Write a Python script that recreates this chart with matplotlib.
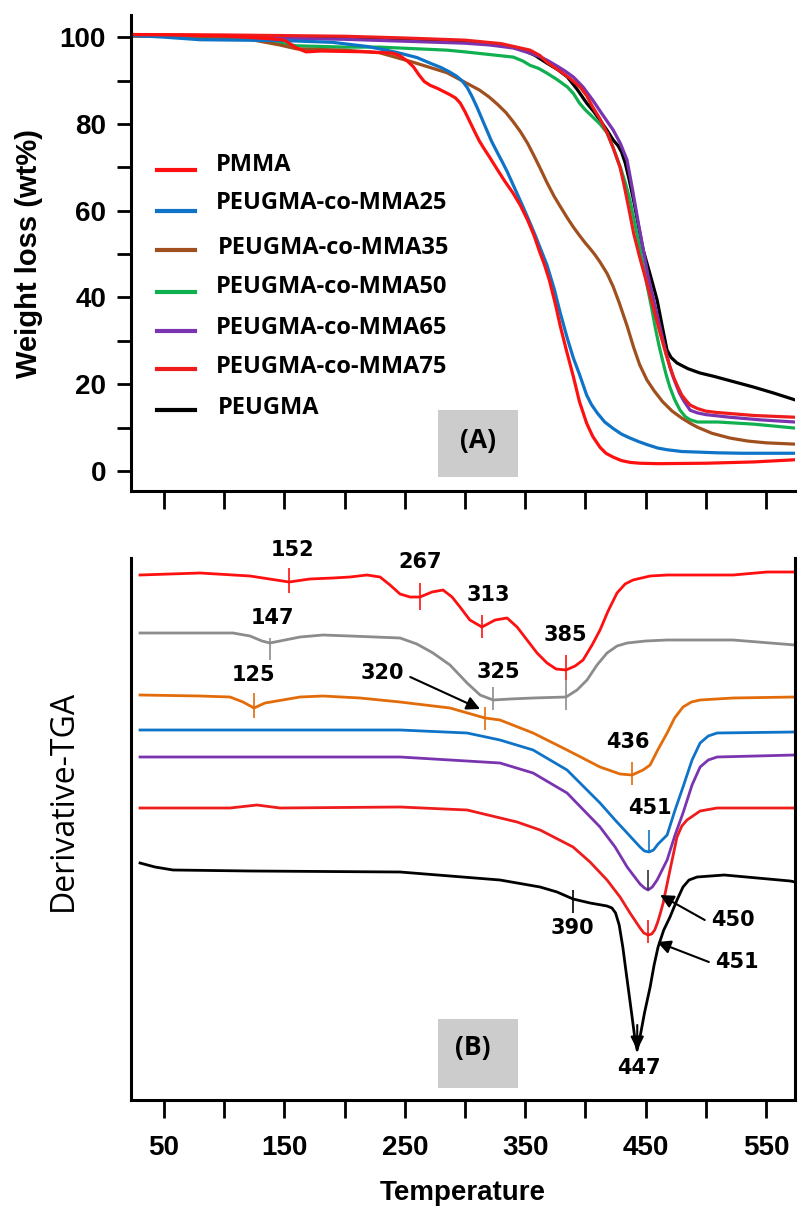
import numpy as np
import matplotlib.pyplot as plt
from matplotlib.patches import Rectangle

# ---------------- (A) TGA curves: temperature (C) / weight (%) ----------------
t_pmma = [22.6, 60, 100, 140, 150, 160, 168, 180, 220, 240, 246, 252, 257, 262, 266, 271, 277, 282, 287,
          292, 296, 300, 304, 308, 312, 316, 320, 327, 333, 340, 346, 352, 357, 362, 366, 370, 375, 379,
          384, 390, 395, 401, 406, 412, 417, 423, 430, 437, 445, 460, 500, 540, 574]
w_pmma = [100.6, 100.5, 100.3, 99.6, 99.3, 97.5, 96.6, 96.8, 96.6, 96.3, 95.7, 94.5, 93.2, 91.2, 89.8,
          88.9, 88.2, 87.5, 86.8, 86.0, 84.8, 82.8, 80.5, 78.2, 76.0, 74.2, 72.5, 69.4, 66.8, 64.0, 61.2,
          57.8, 54.5, 50.5, 47.5, 44.0, 38.5, 33.5, 28.0, 21.7, 16.0, 11.0, 8.0, 5.5, 4.1, 3.2, 2.4, 2.0,
          1.8, 1.7, 1.8, 2.1, 2.6]

t_m25 = [22.6, 50, 80, 150, 190, 220, 243, 260, 271, 280, 287, 293, 298, 302, 306, 310, 314, 318, 322, 327,
         331, 335, 341, 348, 353, 358, 363, 368, 374, 379, 385, 390, 395, 401, 405, 410, 416, 423, 430,
         437, 444, 451, 460, 468, 480, 490, 510, 530, 574]
w_m25 = [100.4, 100.0, 99.4, 99.2, 98.8, 97.8, 96.5, 95.3, 94.0, 93.0, 92.0, 91.0, 89.8, 88.3, 86.2, 83.8,
         81.2, 78.6, 76.0, 73.3, 71.2, 69.0, 65.3, 61.0, 57.8, 54.5, 51.0, 47.5, 42.0, 36.5, 30.5, 26.0,
         22.3, 17.5, 15.3, 13.3, 11.3, 9.8, 8.5, 7.6, 6.8, 6.1, 5.3, 4.9, 4.5, 4.4, 4.2, 4.1, 4.1]

t_m35 = [22.6, 60, 100, 119, 146, 160, 200, 229, 257, 285, 312, 320, 327, 334, 340, 346, 352, 357, 362, 368,
         374, 379, 385, 390, 395, 400, 404, 408, 412, 418, 423, 428, 434.5, 440, 445, 451, 457, 464, 472,
         480, 487, 493, 505, 520, 535, 550, 574]
w_m35 = [100.3, 100.2, 100.0, 99.6, 98.2, 97.3, 97.0, 96.4, 94.2, 91.8, 87.8, 86.2, 84.5, 82.6, 80.5, 78.2,
         75.5, 72.8, 70.0, 66.5, 63.3, 61.0, 58.3, 56.2, 54.3, 52.5, 51.2, 49.8, 48.2, 45.5, 42.5, 38.8,
         33.5, 28.5, 24.5, 21.0, 18.5, 16.0, 13.8, 12.2, 11.0, 10.1, 8.7, 7.6, 6.9, 6.5, 6.2]

t_m50 = [22.6, 80, 120, 132, 160, 200, 229, 285, 300, 340, 348, 354, 361, 368, 376, 385, 390, 395, 400, 406,
         412, 418, 423, 429, 433, 437, 441, 444, 448, 451, 455, 458, 461, 464, 467, 470, 474, 478.6, 483,
         487, 493, 510, 540, 574]
w_m50 = [100.3, 100.0, 99.6, 99.3, 98.0, 97.7, 97.7, 97.0, 96.6, 95.4, 94.5, 93.5, 92.8, 91.7, 90.3, 88.5,
         87.0, 84.8, 83.2, 81.6, 80.0, 77.9, 74.5, 70.0, 66.5, 62.4, 57.0, 53.0, 47.3, 43.0, 37.5, 33.0,
         29.0, 25.5, 22.2, 19.4, 16.5, 14.0, 12.5, 11.8, 11.3, 11.3, 10.8, 9.9]

t_m65 = [22.6, 100, 200, 300, 320, 340, 354, 362, 368, 376, 383, 390, 398, 406, 414, 423, 429, 434.5, 439,
         444, 448, 452, 457, 462, 466, 470, 474, 478, 482, 487, 493, 500, 520, 545, 574]
w_m65 = [100.3, 100.0, 99.5, 98.6, 98.2, 97.5, 96.3, 95.5, 94.7, 93.4, 92.2, 90.8, 88.5, 85.5, 82.2, 78.6,
         75.5, 71.7, 65.0, 57.0, 51.0, 45.0, 39.0, 33.0, 28.3, 24.0, 20.8, 18.0, 16.0, 14.0, 13.4, 13.0,
         12.4, 11.8, 11.3]

t_m75 = [22.6, 100, 200, 250, 300, 330, 354, 362, 368, 378, 387, 395.5, 401, 406, 412, 418, 423, 428.7, 432,
         436, 440, 445, 451, 456, 462, 467, 473, 477, 480, 484, 487, 493, 500, 509, 540, 574]
w_m75 = [100.6, 100.5, 100.2, 99.8, 99.3, 98.5, 97.0, 95.8, 94.2, 92.3, 90.5, 88.5, 86.5, 83.9, 81.2, 77.9,
         74.5, 70.0, 66.0, 60.5, 54.8, 49.3, 43.3, 38.0, 31.8, 26.8, 21.7, 19.2, 17.5, 16.1, 15.2, 14.4,
         13.8, 13.5, 12.8, 12.4]

t_peugma = [22.6, 100, 200, 300, 330, 347, 358, 368, 377, 385, 393, 401, 407, 412, 418, 423, 427, 430, 433,
            436, 440, 444, 448, 454, 459.5, 464, 467.7, 471, 476, 485, 495, 507, 517.6, 539, 556, 574]
w_peugma = [100.4, 100.3, 99.8, 98.8, 98.2, 97.2, 95.8, 94.0, 92.5, 90.8, 88.0, 84.8, 82.8, 80.9, 78.5,
            76.3, 75.0, 73.5, 71.0, 67.5, 62.4, 56.5, 50.9, 45.0, 39.4, 33.0, 27.9, 26.2, 24.9, 23.6, 22.6,
            21.8, 21.0, 19.4, 18.0, 16.4]

tga_labels = ["PMMA", "PEUGMA-co-MMA25", "PEUGMA-co-MMA35", "PEUGMA-co-MMA50",
              "PEUGMA-co-MMA65", "PEUGMA-co-MMA75", "PEUGMA"]
tga_colors = ["#ff1010", "#0f74c8", "#a0501e", "#10b050", "#7a34b0", "#ee1c1c", "#000000"]

# ---------------- (B) derivative TGA curves (stacked, arbitrary units) ----------------
d_t1 = [30.1, 79.9, 121.4, 153.8, 171, 190.4, 204.5, 218.6, 229.4, 237.7, 246, 254.3, 262.6, 272.6, 281.7,
        289.2, 295.8, 304, 314, 325, 334.9, 343.2, 351.5, 359.8, 368.1, 375.6, 383.9, 391.4, 398, 405.5,
        412.1, 418.8, 426.2, 432.9, 439.5, 453.7, 467.8, 522.6, 550.8, 574]
d_v1 = [5.25, 5.27, 5.24, 5.18, 5.21, 5.22, 5.23, 5.25, 5.23, 5.15, 5.06, 5.03, 5.03, 5.08, 5.10, 5.03,
        4.93, 4.80, 4.73, 4.80, 4.82, 4.73, 4.60, 4.47, 4.37, 4.31, 4.30, 4.34, 4.40, 4.55, 4.70, 4.89,
        5.07, 5.16, 5.20, 5.24, 5.25, 5.25, 5.28, 5.28]

d_t2 = [30.1, 107.3, 121.4, 131.4, 138, 146.3, 163, 182, 204.5, 246, 260, 273.4, 287.5, 301.7, 312.5, 323.3,
        337.4, 356.5, 383.9, 393, 401.3, 409.6, 417.9, 426.2, 434.6, 450, 467.8, 522.6, 574]
d_v2 = [4.67, 4.67, 4.64, 4.59, 4.57, 4.59, 4.63, 4.65, 4.64, 4.62, 4.56, 4.47, 4.35, 4.17, 4.05, 4.00,
        4.01, 4.02, 4.03, 4.10, 4.20, 4.35, 4.47, 4.54, 4.57, 4.59, 4.60, 4.60, 4.55]

d_t3 = [30.1, 79.9, 104.8, 115.6, 124.7, 133.9, 163, 182, 212.8, 246, 287.5, 316.6, 329, 356.5, 384.7,
        412.1, 428.7, 438.7, 447.8, 453.7, 460, 467.8, 474, 481, 488, 495.2, 522.6, 574]
d_v3 = [4.05, 4.04, 4.03, 3.98, 3.92, 3.97, 4.03, 4.04, 4.02, 3.98, 3.92, 3.82, 3.80, 3.67, 3.50, 3.33,
        3.26, 3.25, 3.30, 3.35, 3.50, 3.67, 3.82, 3.93, 3.98, 4.00, 4.02, 4.03]

d_t4 = [30.1, 246, 301.7, 329, 356.5, 384.7, 412.1, 424.6, 434.6, 445.3, 449, 452.8, 456.5, 460.3, 467.8,
        474.4, 481, 488.5, 495.2, 502, 509.3, 574]
d_v4 = [3.70, 3.70, 3.67, 3.60, 3.50, 3.30, 2.97, 2.80, 2.67, 2.53, 2.49, 2.48, 2.50, 2.56, 2.65, 2.90,
        3.13, 3.40, 3.57, 3.64, 3.67, 3.68]

d_t5 = [30.1, 246, 329, 356.5, 384.7, 412.1, 424.6, 434.6, 445.3, 449, 452, 455.5, 459.5, 467.8, 474.4, 481,
        488.5, 495.2, 502, 509.3, 574]
d_v5 = [3.43, 3.43, 3.37, 3.27, 3.07, 2.73, 2.53, 2.33, 2.16, 2.12, 2.10, 2.13, 2.20, 2.40, 2.65, 2.87,
        3.15, 3.33, 3.40, 3.43, 3.45]

d_t6 = [30.1, 104.8, 127.2, 146.3, 246, 301.7, 343.2, 362.3, 389.7, 403.8, 417.9, 428.7, 437, 445.3, 448.5,
        452, 455, 457.5, 460, 462, 464.5, 470.2, 476, 480, 484.3, 495.2, 509.3, 574]
d_v6 = [2.92, 2.92, 2.95, 2.92, 2.93, 2.90, 2.78, 2.70, 2.53, 2.38, 2.20, 2.03, 1.87, 1.72, 1.67, 1.65,
        1.66, 1.70, 1.78, 1.86, 1.97, 2.30, 2.63, 2.74, 2.80, 2.89, 2.92, 2.92]

d_t7 = [30.1, 42.5, 57.5, 121.4, 246, 329, 362.3, 376.4, 389.7, 403.8, 417.9, 422, 425, 428, 431, 433.5,
        435.4, 438.5, 441.2, 442.9, 445.3, 449, 453.7, 457, 460.3, 465, 470.2, 476, 481, 486, 492.7, 515.3,
        570, 574]
d_v7 = [2.37, 2.33, 2.30, 2.29, 2.28, 2.20, 2.13, 2.08, 2.01, 1.97, 1.94, 1.92, 1.87, 1.75, 1.53, 1.30,
        1.13, 0.85, 0.60, 0.50, 0.63, 0.87, 1.13, 1.35, 1.53, 1.70, 1.83, 2.00, 2.13, 2.20, 2.23, 2.25,
        2.19, 2.18]

dtg_colors = ["#ff1010", "#8c8c8c", "#e36c0a", "#0f74c8", "#7a34b0", "#ee1c1c", "#000000"]

# peak marks: temperature, top, bottom, colour
mark_t = [153.8, 262.6, 314, 383.9, 138, 323.3, 383.9, 124.7, 316.6, 438.7, 452.8, 452, 452, 389.7]
mark_hi = [5.32, 5.17, 4.85, 4.45, 4.62, 4.13, 4.20, 4.07, 3.93, 3.38, 2.70, 2.30, 1.80, 2.10]
mark_lo = [5.07, 4.90, 4.62, 4.20, 4.40, 3.90, 3.90, 3.82, 3.70, 3.15, 2.48, 2.10, 1.57, 1.87]
mark_c = ["#ff1010", "#ff1010", "#ff1010", "#ff1010", "#8c8c8c", "#8c8c8c", "#8c8c8c",
          "#e36c0a", "#e36c0a", "#e36c0a", "#0f74c8", "#333333", "#ff1010", "#000000"]

# peak labels
peak_txt = ["152", "267", "313", "385", "147", "325", "125", "436", "451", "390"]
peak_t = [157, 262.6, 319, 383, 139.7, 327.4, 124.7, 435.4, 453.7, 388.9]
peak_v = [5.50, 5.38, 5.05, 4.65, 4.82, 4.28, 4.25, 3.58, 2.92, 1.72]

fig = plt.figure(figsize=(7.99, 12.07), dpi=100)
W, H = 799, 1207
ax1 = fig.add_axes([131 / W, 1 - 491 / H, (795 - 131) / W, (491 - 15) / H])
ax2 = fig.add_axes([131 / W, 1 - 1100 / H, (795 - 131) / W, (1100 - 558) / H])

tick_font = dict(family="Liberation Sans", weight="bold", size=20)
xlim = (22.6, 574)

# ---- panel A ----
tga_t = [t_pmma, t_m25, t_m35, t_m50, t_m65, t_m75, t_peugma]
tga_w = [w_pmma, w_m25, w_m35, w_m50, w_m65, w_m75, w_peugma]
for i in [6, 3, 4, 5, 2, 1, 0]:
    ax1.plot(tga_t[i], tga_w[i], color=tga_colors[i], lw=2.3, solid_joinstyle="round")

ax1.set_xlim(*xlim)
ax1.set_ylim(-4.6, 105.1)
ax1.spines["top"].set_visible(False)
ax1.spines["right"].set_visible(False)
for s in ["left", "bottom"]:
    ax1.spines[s].set_linewidth(2.2)
ax1.set_xticks(np.arange(50, 551, 50))
ax1.set_xticklabels([])
ax1.set_yticks(np.arange(0, 101, 20))
ax1.set_yticks(np.arange(10, 100, 20), minor=True)
ax1.tick_params(axis="x", direction="out", length=13, width=2, pad=10)
ax1.tick_params(axis="y", which="both", direction="out", length=10, width=2, pad=8)
for lab in ax1.get_yticklabels():
    lab.set_fontproperties(tick_font)
ax1.set_ylabel("Weight loss (wt%)", family="Liberation Sans", weight="bold", fontsize=21)
ax1.yaxis.set_label_coords(-0.133, 0.5)

# legend drawn by hand
leg_line_y = [0.674, 0.588, 0.506, 0.418, 0.336, 0.256, 0.170]
leg_text_y = [0.685, 0.605, 0.511, 0.429, 0.342, 0.261, 0.174]
leg_text_x = [0.128, 0.128, 0.131, 0.128, 0.128, 0.128, 0.131]
for i, lab in enumerate(tga_labels):
    ax1.plot([0.039, 0.096], [leg_line_y[i]] * 2, color=tga_colors[i], lw=3,
             transform=ax1.transAxes, clip_on=False)
    ax1.text(leg_text_x[i], leg_text_y[i], lab, transform=ax1.transAxes, ha="left", va="center",
             family="Open Sans", weight="bold", fontsize=17)

ax1.add_patch(Rectangle((277.6, -1.4), 66.4, 15.5, facecolor="#cccccc", edgecolor="none"))
ax1.text(311, 7.0, "(A)", ha="center", va="center", family="Open Sans", weight="bold", fontsize=19)

# ---- panel B ----
dtg_t = [d_t1, d_t2, d_t3, d_t4, d_t5, d_t6, d_t7]
dtg_v = [d_v1, d_v2, d_v3, d_v4, d_v5, d_v6, d_v7]
for i in [6, 0, 1, 2, 3, 4, 5]:
    ax2.plot(dtg_t[i], dtg_v[i], color=dtg_colors[i], lw=2.0, solid_joinstyle="round")

ax2.vlines(mark_t, mark_lo, mark_hi, colors=mark_c, lw=1.2)

lab_font = dict(family="DejaVu Sans", weight="bold", fontsize=15)
for s, t, v in zip(peak_txt, peak_t, peak_v):
    ax2.text(t, v, s, ha="center", va="center", **lab_font)

arrow = dict(arrowstyle="-|>", color="black", lw=1.5, mutation_scale=20, shrinkA=0, shrinkB=0)
ax2.annotate("320", xy=(312.5, 3.91), xytext=(231, 4.27), ha="center", va="center",
             arrowprops=dict(arrow, relpos=(1.15, 0.3)), **lab_font)
ax2.annotate("450", xy=(462, 2.05), xytext=(522.6, 1.80), ha="center", va="center",
             arrowprops=dict(arrow, relpos=(-0.15, 0.5)), **lab_font)
ax2.annotate("451", xy=(459.5, 1.58), xytext=(526, 1.38), ha="center", va="center",
             arrowprops=dict(arrow, relpos=(-0.15, 0.5)), **lab_font)
ax2.annotate("", xy=(443, 0.50), xytext=(443, 0.75), arrowprops=arrow)
ax2.text(444.5, 0.32, "447", ha="center", va="center", **lab_font)

ax2.add_patch(Rectangle((277.6, 0.12), 66.4, 0.69, facecolor="#cccccc", edgecolor="none"))
ax2.text(306, 0.52, "(B)", ha="center", va="center", family="Open Sans", weight="bold", fontsize=19)

ax2.set_xlim(*xlim)
ax2.set_ylim(0, 5.42)
ax2.spines["top"].set_visible(False)
for s in ["left", "right", "bottom"]:
    ax2.spines[s].set_linewidth(2.2)
ax2.set_yticks([])
ax2.set_xticks(np.arange(50, 551, 100))
ax2.set_xticks(np.arange(100, 501, 100), minor=True)
ax2.tick_params(axis="x", which="both", direction="out", length=13, width=2, pad=12)
for lab in ax2.get_xticklabels():
    lab.set_fontproperties(tick_font)
ax2.set_xlabel("Temperature", family="Liberation Sans", weight="bold", fontsize=20, labelpad=14)
ax2.set_ylabel("Derivative-TGA", family="Open Sans", fontsize=23)
ax2.yaxis.set_label_coords(-0.077, 0.553)

fig.savefig("out.png", dpi=100)
